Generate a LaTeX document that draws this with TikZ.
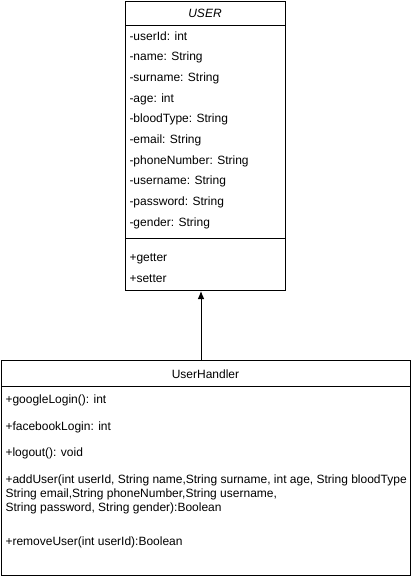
\documentclass[tikz,border=0pt]{standalone}
\usepackage{fontspec}
\setmainfont{Liberation Sans}
\usetikzlibrary{positioning, arrows.meta}
\tikzset{
    classbox/.style={draw, inner sep=0pt, anchor=north west}, % outline of a class
    member/.style={inner sep=0pt, font=\fontsize{9}{10.5}\selectfont, text height=7pt, text depth=2pt, anchor=west}, % one line of a class
    params/.style={inner sep=0pt, font=\fontsize{9}{10.5}\selectfont, align=left, anchor=north west}, % a member set on several lines
    >={Latex[length=6pt, width=5pt]}, % filled arrow heads
}
\begin{document}
\begin{tikzpicture}[x=0.75pt, y=-0.75pt, line width=0.75pt]
\useasboundingbox (0,0) rectangle (411,577);
% class USER
\node[classbox, minimum width=120pt, minimum height=216.75pt] (user) at (125,1) {};
\draw (125,26) -- (285,26) (125,238) -- (285,238);
\node[member, anchor=center, font=\fontsize{9}{10.5}\selectfont\itshape] (usertitle) at (205,14) {USER};
\node[member] (userid) at (129,37) {-userId: int};
\node[member, below=15.5pt of userid.west, anchor=west] (name) {-name: String};
\node[member, below=15.5pt of name.west, anchor=west] (surname) {-surname: String};
\node[member, below=15.5pt of surname.west, anchor=west] (age) {-age: int};
\node[member, below=15.5pt of age.west, anchor=west] (bloodtype) {-bloodType: String};
\node[member, below=15.5pt of bloodtype.west, anchor=west] (email) {-email: String};
\node[member, below=15.5pt of email.west, anchor=west] (phone) {-phoneNumber: String};
\node[member, below=15.5pt of phone.west, anchor=west] (username) {-username: String};
\node[member, below=15.5pt of username.west, anchor=west] (password) {-password: String};
\node[member, below=15.5pt of password.west, anchor=west] (gender) {-gender: String};
\node[member] (getter) at (129,258) {+getter};
\node[member, below=15.5pt of getter.west, anchor=west] (setter) {+setter};
% class UserHandler
\node[classbox, minimum width=306.75pt, minimum height=161.25pt] (handler) at (1,360) {};
\draw (1,386) -- (410,386);
\node[member, anchor=center] (handlertitle) at (205.5,375) {UserHandler};
\node[member] (google) at (5,400) {+googleLogin(): int};
\node[member, below=20pt of google.west, anchor=west] (facebook) {+facebookLogin: int};
\node[member, below=20pt of facebook.west, anchor=west] (logout) {+logout(): void};
\node[params, below=10.5pt of logout.south west, anchor=north west] (adduser) {+addUser(int userId, String name,String surname, int age, String bloodType\\String email,String phoneNumber,String username,\\String password, String gender):Boolean};
\node[member, below=16.5pt of adduser.south west, anchor=north west] (removeuser) {+removeUser(int userId):Boolean};
% inheritance
\coordinate (tail) at (201,360);
\draw[->] (tail) -- (tail |- user.south);
\end{tikzpicture}
\end{document}
